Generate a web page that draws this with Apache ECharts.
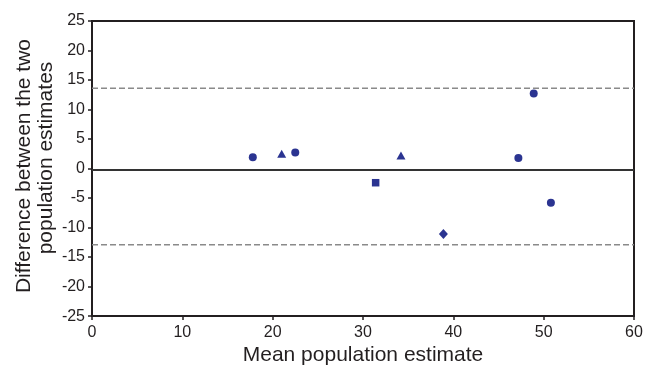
<!DOCTYPE html>
<html>
<head>
<meta charset="utf-8">
<script src="https://cdn.jsdelivr.net/npm/echarts@6/dist/echarts.min.js"></script>
<style>
html,body{margin:0;padding:0;background:#fff;}
#chart{width:653px;height:371px;}
</style>
</head>
<body>
<div id="chart"></div>
<script>
// Data
var circlePoints = [[17.8, 1.9], [22.5, 2.7], [47.2, 1.8], [48.9, 12.7], [50.8, -5.8]];
var trianglePoints = [[21.0, 2.5], [34.2, 2.2]];
var squarePoints = [[31.4, -2.4]];
var diamondPoints = [[38.9, -11.1]];
var meanDiff = -0.25;
var upperLimit = 13.6;
var lowerLimit = -12.9;
var xTitle = 'Mean population estimate';
var yTitleLines = ['Difference between the two', 'population estimates'];

var FONT = '"Liberation Sans", Arial, Helvetica, sans-serif';
var TXT = '#231f20';
var MARK = '#2b3491';

var chart = echarts.init(document.getElementById('chart'), null, {renderer: 'canvas'});

function lineSeries(y, type, color, width) {
  return {
    type: 'line',
    data: [[0, y], [60, y]],
    symbol: 'none',
    silent: true,
    lineStyle: {color: color, width: width, type: type},
    z: 1
  };
}

chart.setOption({
  animation: false,
  backgroundColor: '#fff',
  grid: {
    left: 92, right: 19, top: 21, bottom: 48,
    show: true, borderColor: TXT, borderWidth: 2, backgroundColor: 'transparent'
  },
  xAxis: {
    type: 'value', min: 0, max: 60, interval: 10,
    name: xTitle, nameLocation: 'middle', nameGap: 23,
    nameTextStyle: {fontFamily: FONT, fontSize: 21, color: TXT},
    axisLine: {show: true, onZero: false, lineStyle: {color: TXT, width: 2}},
    axisTick: {show: true, length: 4, lineStyle: {color: TXT, width: 1.5}},
    axisLabel: {fontFamily: FONT, fontSize: 16, color: TXT, margin: 8},
    splitLine: {show: false}
  },
  yAxis: {
    type: 'value', min: -25, max: 25, interval: 5,
    axisLine: {show: true, onZero: false, lineStyle: {color: TXT, width: 2}},
    axisTick: {show: true, length: 4, lineStyle: {color: TXT, width: 1.5}},
    axisLabel: {fontFamily: FONT, fontSize: 16, color: TXT, margin: 7},
    splitLine: {show: false}
  },
  graphic: [
    {type: 'text', x: 24, y: 166, rotation: Math.PI / 2,
     style: {text: yTitleLines[0], fontFamily: FONT, fontSize: 21, fill: TXT, align: 'center', verticalAlign: 'middle'}},
    {type: 'text', x: 46, y: 158, rotation: Math.PI / 2,
     style: {text: yTitleLines[1], fontFamily: FONT, fontSize: 21, fill: TXT, align: 'center', verticalAlign: 'middle'}}
  ],
  series: [
    lineSeries(upperLimit, [6, 3], '#8a8a8a', 1.5),
    lineSeries(lowerLimit, [6, 3], '#8a8a8a', 1.5),
    lineSeries(meanDiff, 'solid', '#333333', 2),
    {type: 'scatter', data: circlePoints, symbol: 'circle', symbolSize: 8,
     itemStyle: {color: MARK, opacity: 1}, z: 3},
    {type: 'scatter', data: trianglePoints, symbol: 'triangle', symbolSize: [9, 8],
     itemStyle: {color: MARK, opacity: 1}, z: 3},
    {type: 'scatter', data: squarePoints, symbol: 'rect', symbolSize: 7.5,
     itemStyle: {color: MARK, opacity: 1}, z: 3},
    {type: 'scatter', data: diamondPoints, symbol: 'diamond', symbolSize: [9, 10],
     itemStyle: {color: MARK, opacity: 1}, z: 3}
  ]
});
</script>
</body>
</html>
